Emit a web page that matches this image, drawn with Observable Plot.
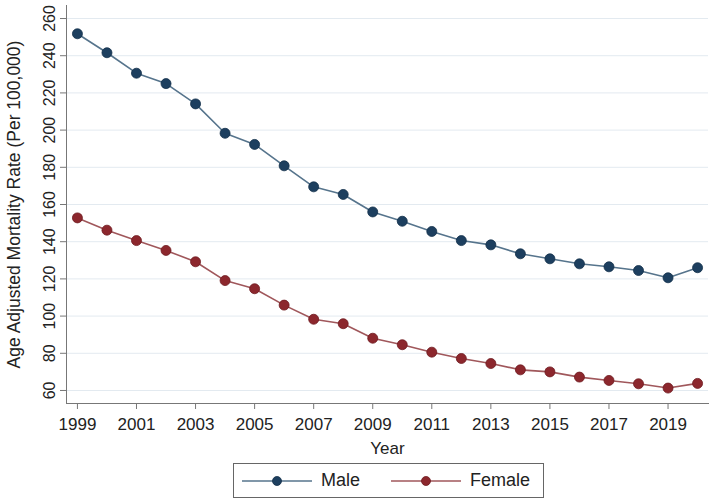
<!DOCTYPE html>
<html><head><meta charset="utf-8">
<script src="https://cdn.jsdelivr.net/npm/d3@7"></script>
<script src="https://cdn.jsdelivr.net/npm/@observablehq/plot@0.6"></script>
<style>
html,body{margin:0;padding:0;background:#fff;}
body{font-family:"Liberation Sans",Arial,Helvetica,sans-serif;width:714px;height:501px;position:relative;overflow:hidden;}
#legend{position:absolute;left:233px;top:463px;width:311px;height:35px;border:1px solid #666;box-sizing:border-box;background:#fff;}
#legend .item{position:absolute;top:0;height:33px;display:flex;align-items:center;font-size:18px;color:#222;}
</style></head><body>
<div id="chart"></div>
<div id="legend"></div>
<script>
const years = [1999,2000,2001,2002,2003,2004,2005,2006,2007,2008,2009,2010,2011,2012,2013,2014,2015,2016,2017,2018,2019,2020];
const maleRates = [251.8,241.6,230.6,225.0,214.1,198.3,192.3,180.8,169.5,165.4,156.0,151.0,145.5,140.6,138.3,133.5,130.8,128.1,126.5,124.5,120.6,126.0];
const femaleRates = [152.8,146.2,140.6,135.3,129.2,119.1,114.7,105.9,98.3,95.9,88.1,84.6,80.6,77.2,74.5,71.1,70.0,67.2,65.4,63.6,61.3,63.8];
const seriesNames = ["Male","Female"];
const lineColors = ["#56748c","#a0575b"];
const dotColors = ["#1d3f5f","#8c272d"];
const dotStrokes = ["#13304a","#6e1a20"];
const yTicks = [60,80,100,120,140,160,180,200,220,240,260];
const xTicks = [1999,2001,2003,2005,2007,2009,2011,2013,2015,2017,2019];
const xLabel = "Year";
const yLabel = "Age Adjusted Mortality Rate (Per 100,000)";

const seriesValues = [maleRates, femaleRates];
const rows = [];
seriesNames.forEach((s,i)=>years.forEach((y,j)=>rows.push({series:s, year:y, value:seriesValues[i][j]})));

const marks = [
  Plot.gridY(yTicks,{stroke:"#e3eaf0",strokeOpacity:1,strokeWidth:1}),
  Plot.frame({anchor:"left",stroke:"#777"}),
  Plot.frame({anchor:"bottom",stroke:"#777"}),
  Plot.axisY(yTicks,{tickSize:6,stroke:"#777",tickPadding:6,tickRotate:-90,textAnchor:"middle",label:null,fontSize:16,fill:"#222"}),
  Plot.text([yLabel],{frameAnchor:"left",rotate:-90,dx:-52,textAnchor:"middle",lineAnchor:"middle",fontSize:17.5,fill:"#222"}),
  Plot.axisX(xTicks,{tickSize:6,stroke:"#777",tickPadding:8,tickFormat:d=>String(d),label:xLabel,labelAnchor:"center",labelArrow:"none",labelOffset:50,fontSize:17,fill:"#222"})
];
seriesNames.forEach((s,i)=>{
  const d = rows.filter(r=>r.series===s);
  marks.push(Plot.line(d,{x:"year",y:"value",stroke:lineColors[i],strokeWidth:1.6}));
  marks.push(Plot.dot(d,{x:"year",y:"value",r:5,fill:dotColors[i],stroke:dotStrokes[i],strokeWidth:0.8}));
});

const chart = Plot.plot({
  width:714, height:460,
  marginLeft:66, marginRight:6, marginTop:5, marginBottom:57,
  style:{fontFamily:"'Liberation Sans',Arial,Helvetica,sans-serif",fontSize:"16px",color:"#222",background:"#fff",overflow:"visible"},
  x:{domain:[1998.63,2020.37]},
  y:{domain:[53,267]},
  marks
});
document.getElementById("chart").appendChild(chart);

const legend = document.getElementById("legend");
const itemLefts = [7,156];
seriesNames.forEach((s,i)=>{
  const it = document.createElement("div");
  it.className="item";
  it.style.left = itemLefts[i]+"px";
  it.innerHTML = `<svg width="72" height="12" style="margin-right:8px"><line x1="1" y1="6" x2="71" y2="6" stroke="${lineColors[i]}" stroke-width="1.6"/><circle cx="36" cy="6" r="4.5" fill="${dotColors[i]}" stroke="${dotStrokes[i]}" stroke-width="0.8"/></svg><span>${s}</span>`;
  legend.appendChild(it);
});
</script>
</body></html>
